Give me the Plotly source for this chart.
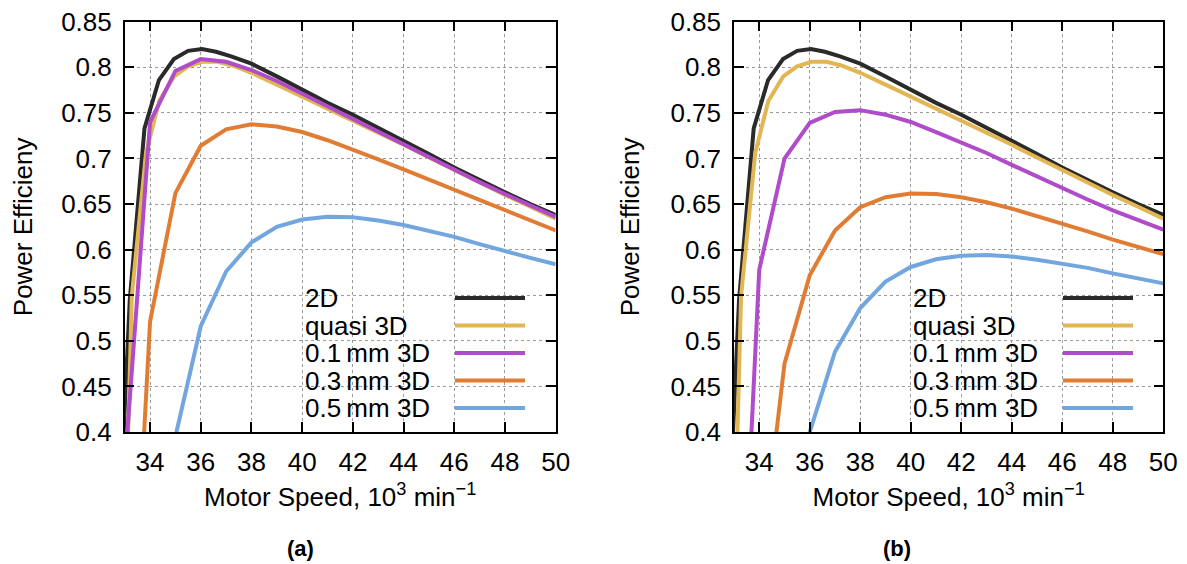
import plotly.graph_objects as go

# ---------------- data ----------------
speed_2d = [32.63, 33.2, 33.78, 34.35, 34.94, 35.5, 36.05, 36.6, 37.2, 38, 39, 40,
            41, 42, 43, 44, 45, 46, 47, 48, 49, 50]
eff_2d = [0.20, 0.545, 0.733, 0.786, 0.809, 0.818, 0.820, 0.817, 0.812, 0.804, 0.790,
          0.775, 0.761, 0.748, 0.734, 0.720, 0.705, 0.690, 0.676, 0.663, 0.650, 0.638]

speed_q3d = [32.9, 33.28, 33.84, 34.36, 34.95, 35.5, 36.07, 36.66, 37.25, 38, 39, 40,
             41, 42, 43, 44, 45, 46, 47, 48, 49, 50]
eff_q3d = [0.15, 0.549, 0.706, 0.763, 0.790, 0.801, 0.806, 0.806, 0.802, 0.794, 0.781,
           0.768, 0.755, 0.742, 0.729, 0.715, 0.701, 0.687, 0.673, 0.660, 0.647, 0.634]

speed = [33, 34, 35, 36, 37, 38, 39, 40, 41, 42, 43, 44, 45, 46, 47, 48, 49, 50]

# (a)
eff_01_a = [0.36, 0.740, 0.796, 0.809, 0.806, 0.797, 0.785, 0.771, 0.757, 0.744,
            0.730, 0.716, 0.702, 0.688, 0.674, 0.661, 0.648, 0.636]
eff_03_a = [0.0, 0.521, 0.662, 0.714, 0.732, 0.7375, 0.735, 0.729, 0.720, 0.710,
            0.699, 0.688, 0.677, 0.666, 0.654, 0.643, 0.632, 0.621]
eff_05_a = [None, 0.20, 0.395, 0.516, 0.576, 0.608, 0.625, 0.633, 0.636, 0.6355,
            0.632, 0.627, 0.621, 0.614, 0.606, 0.598, 0.591, 0.584]

# (b)
eff_01_b = [0.0, 0.578, 0.700, 0.739, 0.751, 0.753, 0.748, 0.740, 0.729, 0.718,
            0.706, 0.693, 0.680, 0.667, 0.655, 0.643, 0.633, 0.622]
eff_03_b = [None, 0.24, 0.475, 0.572, 0.621, 0.6465, 0.6575, 0.6615, 0.661, 0.6575,
            0.652, 0.645, 0.637, 0.628, 0.620, 0.611, 0.603, 0.595]
eff_05_b = [None, None, 0.22, 0.40, 0.488, 0.536, 0.565, 0.581, 0.5895, 0.5934,
            0.5942, 0.5925, 0.589, 0.585, 0.580, 0.574, 0.569, 0.563]

names = ["2D", "quasi 3D", "0.1\u2009mm 3D", "0.3\u2009mm 3D", "0.5\u2009mm 3D"]
colors = ["#2a2a2a", "#e1b653", "#b04bc9", "#e17c34", "#71a6df"]

x_ticks = [34, 36, 38, 40, 42, 44, 46, 48, 50]
y_ticks = [0.4, 0.45, 0.5, 0.55, 0.6, 0.65, 0.7, 0.75, 0.8, 0.85]
y_ticktext = ["0.4", "0.45", "0.5", "0.55", "0.6", "0.65", "0.7", "0.75", "0.8", "0.85"]

# page body has an 8px margin; figure fills the rest of the 1187x564 window
OFF = 8
W, H = 1187 - OFF, 564 - OFF
FONT = "Liberation Sans, Arial, sans-serif"
FS = 26

fig = go.Figure()

panels = [
    ("x", "y", [(speed_2d, eff_2d), (speed_q3d, eff_q3d), (speed, eff_01_a),
                (speed, eff_03_a), (speed, eff_05_a)]),
    ("x2", "y2", [(speed_2d, eff_2d), (speed_q3d, eff_q3d), (speed, eff_01_b),
                  (speed, eff_03_b), (speed, eff_05_b)]),
]
for xa, ya, series in panels:
    for (xs, ys), nm, c in zip(series, names, colors):
        fig.add_trace(go.Scatter(x=xs, y=ys, mode="lines", name=nm, xaxis=xa, yaxis=ya,
                                 line=dict(color=c, width=4), showlegend=False,
                                 connectgaps=False))


def px_x(p):
    return (p - OFF) / W


def px_y(p):
    return 1 - (p - OFF) / H


dom_a = [px_x(124.7), px_x(555.7)]
dom_b = [px_x(734), px_x(1163.3)]
dom_y = [px_y(432), px_y(21.7)]

axis_common = dict(
    showline=True, linecolor="black", linewidth=1.5, mirror="allticks",
    ticks="inside", ticklen=10, tickwidth=1.5, tickcolor="black",
    showgrid=True, gridcolor="#9a9a9a", griddash="dot", gridwidth=1,
    zeroline=False, tickfont=dict(family=FONT, size=FS, color="black"),
    automargin=False, ticklabeloverflow="allow",
)

xtitle = dict(text="Motor Speed, 10<sup>3</sup> min<sup>\u22121</sup>",
              font=dict(family=FONT, size=FS, color="black"), standoff=12)
ytitle = dict(text="Power Efficieny", font=dict(family=FONT, size=FS, color="black"),
              standoff=23)

fig.update_layout(
    width=W, height=H, autosize=False,
    margin=dict(l=0, r=0, t=0, b=0),
    paper_bgcolor="white", plot_bgcolor="white",
    font=dict(family=FONT, size=FS, color="black"),
    xaxis=dict(domain=dom_a, range=[33, 50], tickvals=x_ticks, anchor="y",
               ticklabelstandoff=6, title=xtitle, **axis_common),
    yaxis=dict(domain=dom_y, range=[0.4, 0.8500001], tickvals=y_ticks,
               ticktext=y_ticktext, anchor="x", ticklabelstandoff=6, title=ytitle,
               **axis_common),
    xaxis2=dict(domain=dom_b, range=[33, 50], tickvals=x_ticks, anchor="y2",
                ticklabelstandoff=6, title=xtitle, **axis_common),
    yaxis2=dict(domain=dom_y, range=[0.4, 0.8500001], tickvals=y_ticks,
                ticktext=y_ticktext, anchor="x2", ticklabelstandoff=6, title=ytitle,
                **axis_common),
)

# custom gnuplot-style legends (text left, sample right)
annotations = []
shapes = []
row_y = [298, 325.5, 353, 380.5, 408]
for text_x, s0, s1 in [(305, 455, 525), (913, 1063, 1133)]:
    for ry, nm, c in zip(row_y, names, colors):
        annotations.append(dict(x=px_x(text_x), y=px_y(ry), xref="paper", yref="paper",
                                text=nm, showarrow=False, xanchor="left", yanchor="middle",
                                xshift=-2,
                                font=dict(family=FONT, size=FS, color="black")))
        shapes.append(dict(type="line", xref="paper", yref="paper",
                           x0=px_x(s0), x1=px_x(s1), y0=px_y(ry), y1=px_y(ry),
                           line=dict(color=c, width=4)))

for lab, cx in [("(a)", 300), ("(b)", 897)]:
    annotations.append(dict(x=px_x(cx), y=px_y(548), xref="paper", yref="paper",
                            text="<b>" + lab + "</b>", showarrow=False,
                            xanchor="center", yanchor="middle",
                            font=dict(family=FONT, size=22, color="black")))

fig.update_layout(annotations=annotations, shapes=shapes)

fig.write_html("out.html")
